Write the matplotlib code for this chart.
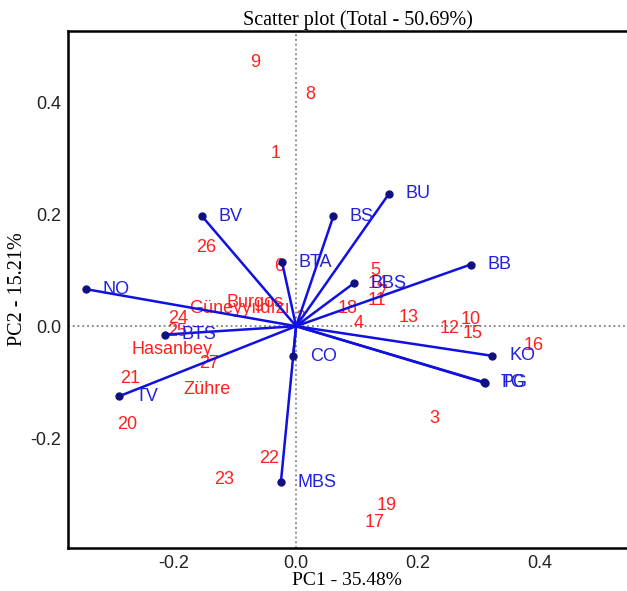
import matplotlib
matplotlib.use("Agg")
import matplotlib.pyplot as plt

plt.rcParams['axes.unicode_minus'] = False

# variable loadings (blue vectors)
var_names = ['NO', 'BV', 'BTA', 'BS', 'BU', 'BB', 'BBS', 'KO', 'TG', 'PG', 'CO', 'BTS', 'TV', 'MBS']
var_x = [-0.344, -0.154, -0.023, 0.061, 0.152, 0.286, 0.095, 0.322, 0.308, 0.309, -0.005, -0.215, -0.290, -0.025]
var_y = [0.066, 0.196, 0.114, 0.196, 0.236, 0.110, 0.077, -0.053, -0.100, -0.101, -0.054, -0.015, -0.125, -0.279]

# observation scores (red labels)
obs_names = ['1', '2', '3', '4', '5', '6', '7', '8', '9', '10', '11', '12', '13', '14',
             '15', '16', '17', '18', '19', '20', '21', '22', '23', '24', '25', '26', '27',
             'Burgos', 'Güneyyıldızı', 'Hasanbey', 'Zühre']
obs_x = [-0.034, 0.007, 0.226, 0.103, 0.130, -0.028, 0.141, 0.023, -0.067, 0.287, 0.133, 0.251, 0.185, 0.133,
         0.290, 0.390, 0.128, 0.085, 0.148, -0.277, -0.272, -0.044, -0.118, -0.193, -0.195, -0.148, -0.143,
         -0.067, -0.092, -0.203, -0.146]
obs_y = [0.309, 0.014, -0.164, 0.005, 0.100, 0.107, 0.059, 0.414, 0.471, 0.0125, 0.045, -0.004, 0.016, 0.077,
         -0.0125, -0.034, -0.350, 0.032, -0.320, -0.175, -0.093, -0.236, -0.273, 0.014, -0.009, 0.141, -0.066,
         0.043, 0.032, -0.041, -0.113]

fig = plt.figure(figsize=(6.27, 5.91), dpi=100)
ax = fig.add_axes([68 / 627, 43 / 591, 580 / 627, 517 / 591])

ax.axhline(0, color='gray', ls=':', lw=1.3, zorder=1)
ax.axvline(0, color='gray', ls=':', lw=1.3, zorder=1)

for x, y, n in zip(obs_x, obs_y, obs_names):
    ax.text(x, y, n, color='#FF2020', fontsize=13, family='Liberation Sans',
            ha='center', va='center', zorder=2)

for x, y, n in zip(var_x, var_y, var_names):
    ax.plot([0, x], [0, y], color='#1010E0', lw=1.8, zorder=3)
    ax.plot(x, y, 'o', color='#101080', ms=5, zorder=4)
    ax.annotate(n, (x, y), xytext=(12, 0), textcoords='offset points',
                color='#2020E0', fontsize=13, family='Liberation Sans',
                ha='left', va='center', zorder=5)

ax.set_xlim(-0.374, 0.577)
ax.set_ylim(-0.396, 0.527)
ax.set_xticks([-0.2, 0.0, 0.2, 0.4])
ax.set_yticks([-0.2, 0.0, 0.2, 0.4])
ax.tick_params(length=0, labelsize=13, labelcolor='#222222')
ax.tick_params(axis='y', pad=5)
ax.tick_params(axis='x', pad=5)
for lab in ax.get_xticklabels() + ax.get_yticklabels():
    lab.set_family('Liberation Sans')
for s in ax.spines.values():
    s.set_linewidth(1.8)

ax.set_title('Scatter plot (Total - 50.69%)', family='Liberation Serif', fontsize=14.5, pad=4)
ax.set_xlabel('PC1 - 35.48%', family='Liberation Serif', fontsize=14)
ax.set_ylabel('PC2 - 15.21%', family='Liberation Serif', fontsize=14.5)
ax.xaxis.set_label_coords(0.481, -0.046)
ax.yaxis.set_label_coords(-0.071, 0.5)

fig.savefig('out.png', dpi=100)
